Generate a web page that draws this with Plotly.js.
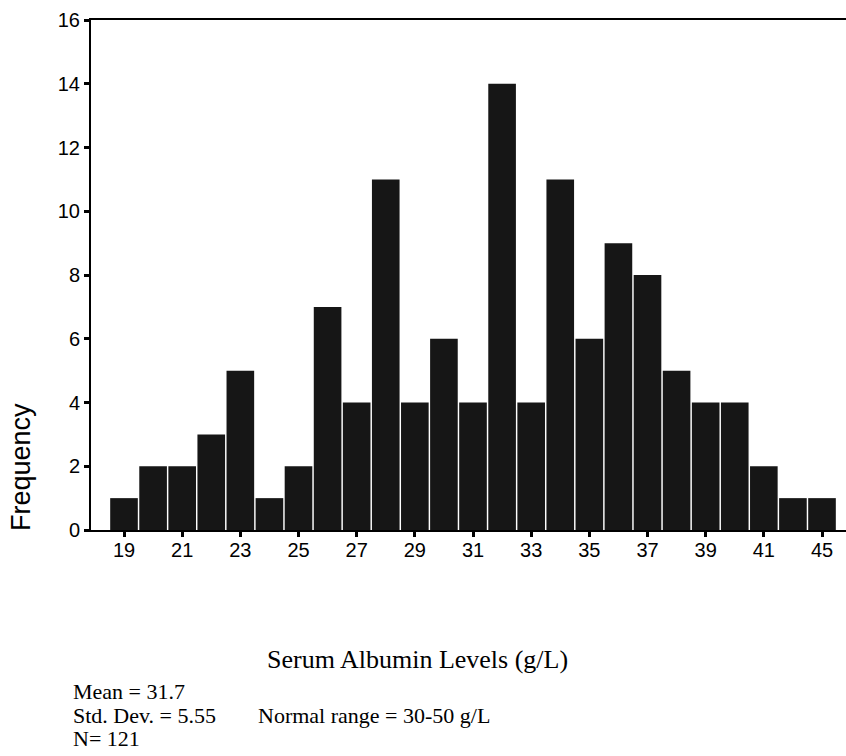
<!DOCTYPE html>
<html>
<head>
<meta charset="utf-8">
<script src="https://cdn.plot.ly/plotly-3.0.1.min.js"></script>
<style>html,body{margin:0;padding:0;background:#fff;}#chart{width:846px;height:756px;}</style>
</head>
<body>
<div id="chart"></div>
<script>
// Serum albumin level categories (g/L) and their frequencies
const categories = ['19','20','21','22','23','24','25','26','27','28','29','30','31','32','33','34','35','36','37','38','39','40','41','43','45'];
const frequencies = [1, 2, 2, 3, 5, 1, 2, 7, 4, 11, 4, 6, 4, 14, 4, 11, 6, 9, 8, 5, 4, 4, 2, 1, 1];
const xTickLabels = ['19','21','23','25','27','29','31','33','35','37','39','41','45'];
const yTickValues = [0, 2, 4, 6, 8, 10, 12, 14, 16];
const xTitle = 'Serum Albumin Levels (g/L)';
const yTitle = 'Frequency';
const statLines = ['Mean = 31.7', 'Std. Dev. = 5.55', 'N= 121'];
const noteText = 'Normal range = 30-50 g/L';

const W = 846, H = 756;
const M = {l: 91, r: 0, t: 20, b: 226};
const PW = W - M.l - M.r, PH = H - M.t - M.b;
const px = x => (x - M.l) / PW;
const py = y => (H - M.b - y) / PH;

const sans = 'Liberation Sans, Arial, sans-serif';
const serif = 'Liberation Serif, Times New Roman, serif';

const trace = {
  type: 'bar',
  x: categories,
  y: frequencies,
  marker: {color: '#161616', line: {width: 0}},
  hoverinfo: 'skip'
};

const statFont = {family: serif, size: 22, color: '#000'};
const annotations = [
  {text: yTitle, xref: 'paper', yref: 'paper', x: px(21), y: py(467), xanchor: 'center', yanchor: 'middle',
   textangle: -90, showarrow: false, font: {family: sans, size: 27, color: '#000'}},
  {text: xTitle, xref: 'paper', yref: 'paper', x: px(417), y: py(659), xanchor: 'center', yanchor: 'middle',
   showarrow: false, font: {family: serif, size: 26, color: '#000'}},
  {text: statLines[0], xref: 'paper', yref: 'paper', x: px(72), y: py(691), xanchor: 'left', yanchor: 'middle',
   showarrow: false, borderpad: 0, font: statFont},
  {text: statLines[1], xref: 'paper', yref: 'paper', x: px(72), y: py(715), xanchor: 'left', yanchor: 'middle',
   showarrow: false, borderpad: 0, font: statFont},
  {text: noteText, xref: 'paper', yref: 'paper', x: px(257), y: py(715), xanchor: 'left', yanchor: 'middle',
   showarrow: false, borderpad: 0, font: statFont},
  {text: statLines[2], xref: 'paper', yref: 'paper', x: px(72), y: py(739), xanchor: 'left', yanchor: 'middle',
   showarrow: false, borderpad: 0, font: statFont}
];

const layout = {
  width: W, height: H,
  margin: M,
  paper_bgcolor: '#fff', plot_bgcolor: '#fff',
  showlegend: false,
  bargap: 0.05,
  xaxis: {
    type: 'category',
    categoryorder: 'array', categoryarray: categories,
    range: [-1.135, 24.825],
    tickmode: 'array', tickvals: xTickLabels, ticktext: xTickLabels,
    ticks: 'outside', ticklen: 5, tickwidth: 3, tickcolor: '#000',
    ticklabelstandoff: -4,
    showline: true, linecolor: '#000', linewidth: 2, mirror: true,
    showgrid: false, zeroline: false,
    tickfont: {family: sans, size: 20, color: '#000'}
  },
  yaxis: {
    range: [0, 16],
    tickmode: 'array', tickvals: yTickValues,
    ticks: 'outside', ticklen: 5, tickwidth: 3, tickcolor: '#000',
    showline: true, linecolor: '#000', linewidth: 2,
    showgrid: false, zeroline: false,
    tickfont: {family: sans, size: 20, color: '#000'}
  },
  annotations: annotations
};

Plotly.newPlot('chart', [trace], layout, {staticPlot: true, displayModeBar: false});
</script>
</body>
</html>
